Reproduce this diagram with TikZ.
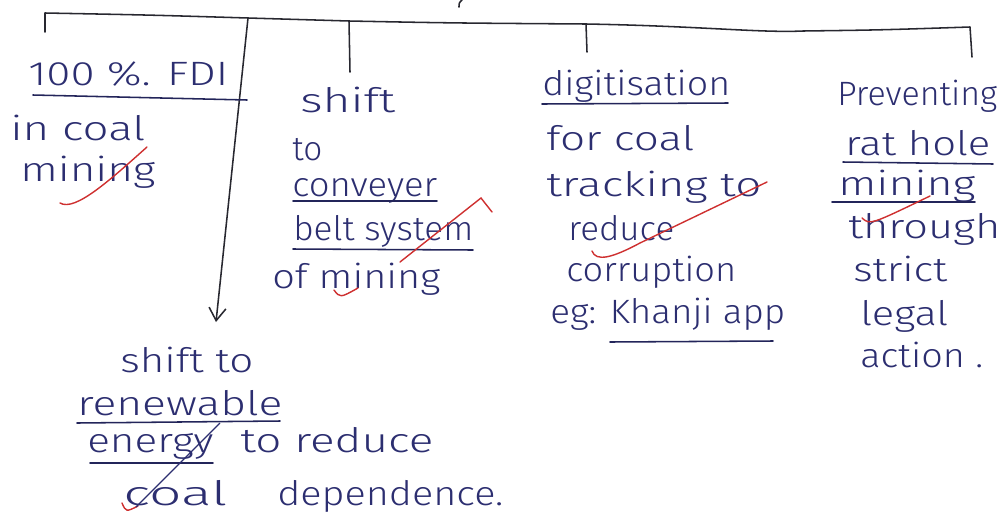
\documentclass[tikz,border=0pt]{standalone}
\usepackage{fontspec}
\usepackage{graphicx}
\setmainfont{Fira Sans}[UprightFont=* Light]
\usetikzlibrary{arrows.meta}
\definecolor{ink}{RGB}{44,46,112}
\definecolor{pencil}{RGB}{40,40,48}
\definecolor{redpen}{RGB}{206,48,48}
\newlength\pxu
\setlength\pxu{0.025cm}
% set a word to a given width (in px units), keeping its natural height
\newcommand\hw[2]{\resizebox{#1\pxu}{\height}{#2}}
\tikzset{
  note/.style={anchor=base west, inner sep=0pt, text=ink, font=\fontsize{24}{28}\selectfont},
  stroke/.style={draw=pencil, line width=1.1pt, line cap=round, line join=round},
  uline/.style={draw=ink!80!black, line width=1.1pt, line cap=round},
  tick/.style={draw=redpen, line width=1pt, line cap=round},
}
\begin{document}
\begin{tikzpicture}[x=0.025cm, y=-0.025cm]
\useasboundingbox (0,0) rectangle (1007,528);

% ---- bracket of the tree ----
\coordinate (b0) at (45,13);
\coordinate (b1) at (248,18);
\coordinate (b2) at (349,21);
\coordinate (b3) at (586,24);
\coordinate (b4) at (970,27);
\coordinate (tip) at (216,322);
\draw[stroke] (45,32) -- (b0) .. controls (150,15) .. (b1) -- (b2)
  .. controls (450,23) .. (b3) .. controls (700,26) and (760,33) .. (803,31)
  .. controls (880,30) .. (b4) -- (972,57);
\draw[stroke] (b2) -- (350,72);
\draw[stroke] (b3) -- (587,52);
\draw[stroke] (462,0) .. controls (459,3) .. (459,7);
\draw[stroke, -{Straight Barb[length=9pt, width=12pt]}] (b1) -- (tip);

% ---- first branch ----
\node[note] (fdi) at (28,85) {\hw{200}{100 \%. FDI}};
\node[note] (fdib) at (10,140) {\hw{135}{in coal}};
\node[note] (fdic) at (20,181) {\hw{135}{mining}};
\draw[uline] (33,95) -- (247,100);
\draw[tick] (60,203) .. controls (75,212) and (110,180) .. (147,147);

% ---- second branch ----
\node[note] (cva) at (300,112) {\hw{95}{shift}};
\node[note] (cvb) at (292,160) {\hw{30}{to}};
\node[note] (cvc) at (292,196) {\hw{145}{conveyer}};
\node[note] (cvd) at (293,240) {\hw{180}{belt system}};
\node[note] (cve) at (272,288) {\hw{168}{of mining}};
\draw[uline] (293,201) -- (437,201);
\draw[uline] (293,249) -- (473,250);
\draw[tick] (400,262) -- (481,198) -- (492,212);
\draw[tick] (334,290) .. controls (340,298) .. (358,288);

% ---- third branch ----
\node[note] (dga) at (542,95) {\hw{188}{digitisation}};
\node[note] (dgb) at (546,150) {\hw{148}{for coal}};
\node[note] (dgc) at (546,196) {\hw{215}{tracking to}};
\node[note] (dgd) at (568,240) {\hw{106}{reduce}};
\node[note] (dge) at (566,281) {\hw{170}{corruption}};
\node[note] (dgf) at (550,323) {\hw{235}{eg: Khanji app}};
\draw[uline] (542,104) -- (728,103);
\draw[uline] (610,342) -- (773,341);
\draw[tick] (592,251) .. controls (596,262) and (612,258) .. (640,243) -- (767,182);

% ---- fourth branch ----
\node[note] (rha) at (837,105) {\hw{160}{Preventing}};
\node[note] (rhb) at (845,155) {\hw{145}{rat hole}};
\node[note] (rhc) at (838,195) {\hw{137}{mining}};
\node[note] (rhd) at (848,238) {\hw{152}{through}};
\node[note] (rhe) at (853,281) {\hw{94}{strict}};
\node[note] (rhf) at (860,325) {\hw{88}{legal}};
\node[note] (rhg) at (860,367) {\hw{123}{action .}};
\draw[uline] (843,162) -- (993,164);
\draw[uline] (832,202) -- (975,202);
\draw[tick] (862,218) .. controls (870,225) .. (930,196);

% ---- outcome under the arrow ----
\node[note] (rea) at (120,372) {\hw{133}{shift to}};
\node[note] (reb) at (77,415) {\hw{205}{renewable}};
\node[note] (rec) at (87,452) {\hw{126}{energy}};
\node[note] (red) at (240,452) {\hw{193}{to reduce}};
\node[note] (ree) at (123,505) {\hw{104}{coal}};
\node[note] (ref) at (277,505) {\hw{226}{dependence.}};
\draw[uline] (77,423) -- (280,421);
\draw[uline] (90,463) -- (213,463);
\draw[tick] (122,503) .. controls (126,512) .. (138,506);
\draw[draw=ink, line width=0.9pt] (136,507) -- (220,423);
\end{tikzpicture}
\end{document}
